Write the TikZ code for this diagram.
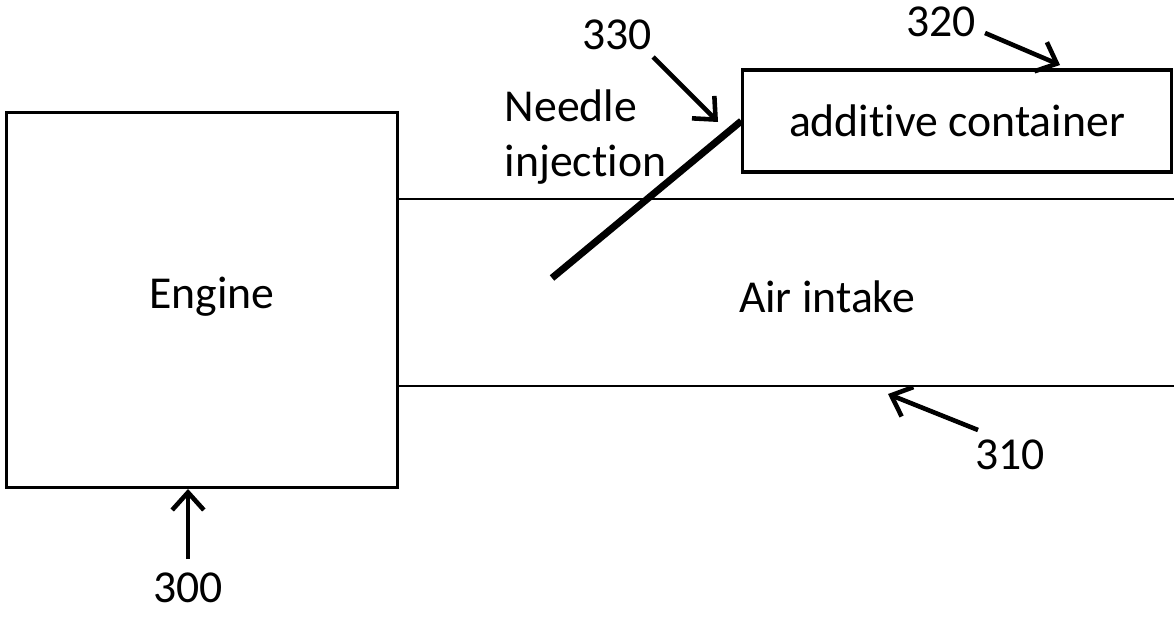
\documentclass[tikz,border=0pt]{standalone}
\usepackage{fontspec}
\setmainfont{Carlito}[Ligatures=NoCommon]
\usetikzlibrary{arrows.meta}

\begin{document}
\begin{tikzpicture}[x=0.01cm,y=-0.01cm,
  box/.style={draw,line width=0.9pt,inner sep=0pt},
  pipe/.style={line width=0.5pt},
  callout/.style={-{Straight Barb[length=5pt,width=9pt,line width=1.3pt]},line width=1.3pt},
  lbl/.style={font=\fontsize{13}{15.5}\selectfont,inner sep=0pt}]
\useasboundingbox (0,0) rectangle (1174,619);
% engine and additive container
\node[box,minimum width=3.9cm,minimum height=3.74cm] (engine) at (202,300) {};
\node[lbl] at (212,297) {Engine};
\node[box,minimum width=4.28cm,minimum height=1.02cm,lbl] (cont) at (957,121) {additive container};
% air intake pipe
\draw[pipe] (398,199) coordinate (pt) -- (1174,199);
\draw[pipe] (398,386) coordinate (pb) -- (1174,386);
\node[lbl] (air) at (827,297) {Air intake};
% needle
\coordinate (tip) at (552,278);
\draw[line width=2pt] (tip) -- (cont.west);
\node[lbl,align=left,anchor=west] (needle) at (504,137) {Needle\\injection};
% reference numerals
\node[lbl] (n330) at (617,35) {330};
\node[lbl] (n320) at (941,22) {320};
\node[lbl] (n310) at (1010,455) {310};
\node[lbl] (n300) at (188,588) {300};
\coordinate (a330) at (653,57);  \coordinate (b330) at (718,122);
\coordinate (a320) at (985,33);  \coordinate (b320) at (1060,65);
\coordinate (a310) at (978,430); \coordinate (b310) at (888,394);
\coordinate (a300) at (188,559); \coordinate (b300) at (188,489);
\draw[callout] (a330) -- (b330);
\draw[callout] (a320) -- (b320);
\draw[callout] (a310) -- (b310);
\draw[callout] (a300) -- (b300);
\end{tikzpicture}
\end{document}
